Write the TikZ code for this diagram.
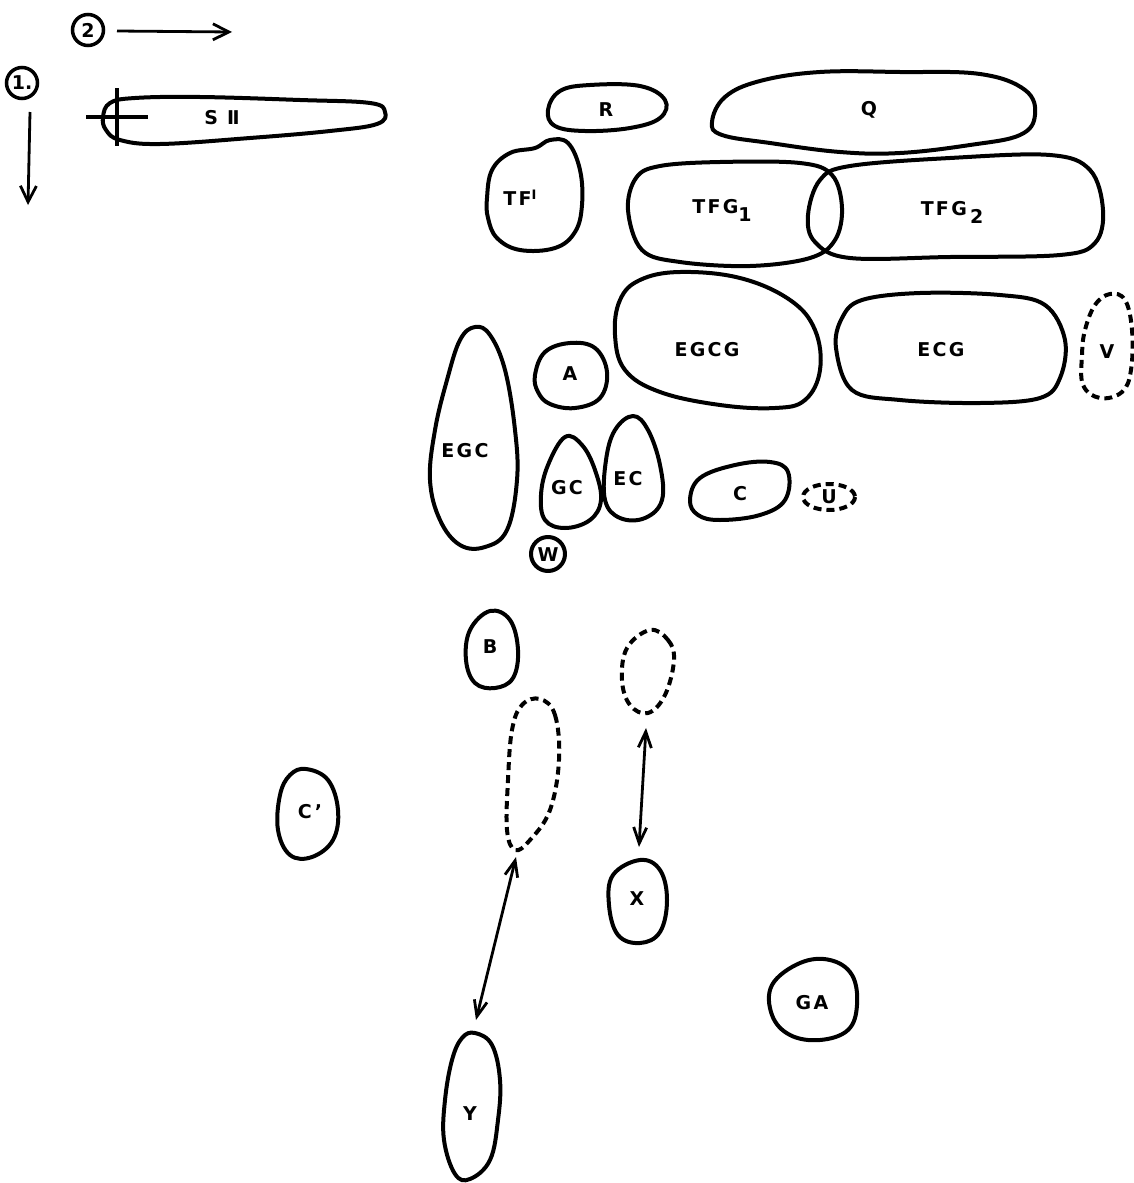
\documentclass[tikz,border=0pt]{standalone}
\usepackage{fontspec}
\setmainfont{DejaVu Sans}
\usetikzlibrary{arrows.meta}
\begin{document}
\begin{tikzpicture}[x=1pt,y=-1pt,
  blob/.style={line width=4pt,line join=round},
  dblob/.style={blob,dash pattern=on 8pt off 5pt},
  lbl/.style={font=\bfseries\fontsize{19}{19}\selectfont\addfontfeature{LetterSpace=12},inner sep=0pt},
  arr/.style={line width=2.8pt,-{Straight Barb[length=16pt,width=16pt,line width=2.8pt]}},
  darr/.style={line width=2.8pt,{Straight Barb[length=16pt,width=13pt,line width=2.8pt]}-{Straight Barb[length=16pt,width=13pt,line width=2.8pt]}},
  numc/.style={circle,draw,line width=3.5pt,inner sep=1pt,minimum size=31pt,font=\bfseries\fontsize{19}{19}\selectfont}]
\useasboundingbox (0,0) rectangle (1134,1183);
% direction markers
\node[numc] (n2) at (88,30) {2};
\node[numc] (n1) at (22,83) {1.};
\coordinate (a2s) at (117,31);
\coordinate (a2e) at (232,32);
\draw[arr] (a2s) -- (a2e);
\coordinate (a1s) at (30,112);
\coordinate (a1e) at (28,205);
\draw[arr] (a1s) -- (a1e);
% S II
\draw[blob] plot[smooth cycle,tension=0.65] coordinates {(103,117) (110,103) (135,98) (200,97) (300,100) (370,103) (385,112) (377,124) (330,131) (250,138) (160,144) (120,140) (106,130)};
\coordinate (cv1) at (117,88); \coordinate (cv2) at (117,146);
\coordinate (ch1) at (86,117); \coordinate (ch2) at (148,117);
\draw[line width=3.4pt] (cv1) -- (cv2);
\draw[line width=3.4pt] (ch1) -- (ch2);
\node[lbl] (sII) at (222,118) {S Ⅱ};
% R
\draw[blob] plot[smooth cycle,tension=0.65] coordinates {(548,110) (560,91) (590,85) (640,86) (665,100) (660,118) (630,128) (585,131) (555,126)};
\node[lbl] (R) at (606,110) {R};
% Q
\draw[blob] plot[smooth cycle,tension=0.65] coordinates {(712,122) (725,97) (760,81) (820,72) (900,72) (980,74) (1025,90) (1035,115) (1020,135) (970,145) (900,153) (840,152) (770,143) (722,135)};
\node[lbl] (Q) at (869,110) {Q};
% TF'
\draw[blob] plot[smooth cycle,tension=0.65] coordinates {(487,198) (492,170) (510,153) (535,148) (550,140) (568,143) (580,170) (582,205) (575,232) (555,248) (520,250) (497,238) (488,218)};
\node[lbl] (TF) at (520,198) {TF\raisebox{6pt}{\fontsize{13}{13}\selectfont I}};
% TFG1
\draw[blob] plot[smooth cycle,tension=0.6] coordinates {(628,210) (636,178) (660,166) (720,162) (800,163) (832,175) (842,208) (835,240) (810,258) (750,266) (680,262) (642,250)};
\node[lbl] (TFG1) at (722,210) {TFG\raisebox{-8pt}{1}};
% TFG2
\draw[blob] plot[smooth cycle,tension=0.6] coordinates {(808,215) (820,180) (850,166) (950,158) (1050,155) (1090,170) (1103,210) (1095,243) (1060,255) (950,257) (850,258) (815,242)};
\node[lbl] (TFG2) at (952,212) {TFG\,\raisebox{-8pt}{2}};
% EGCG
\draw[blob] plot[smooth cycle,tension=0.65] coordinates {(615,335) (620,300) (640,280) (680,272) (740,278) (790,300) (815,330) (820,370) (805,400) (775,408) (720,405) (660,392) (625,370)};
\node[lbl] (EGCG) at (707,350) {EGCG};
% ECG
\draw[blob] plot[smooth cycle,tension=0.6] coordinates {(836,348) (842,318) (862,300) (920,293) (1000,295) (1045,305) (1065,340) (1060,378) (1040,398) (980,403) (900,400) (852,390)};
\node[lbl] (ECG) at (941,350) {ECG};
% V
\draw[dblob] plot[smooth cycle,tension=0.65] coordinates {(1085,330) (1095,305) (1110,294) (1125,300) (1132,330) (1131,370) (1122,392) (1100,398) (1083,385) (1082,355)};
\node[lbl] (V) at (1107,352) {V};
% EGC
\draw[blob] plot[smooth cycle,tension=0.65] coordinates {(475,327) (490,335) (505,370) (515,430) (517,480) (507,530) (485,547) (460,545) (440,520) (430,480) (435,430) (447,380) (460,340)};
\node[lbl] (EGC) at (465,451) {EGC};
% A
\draw[blob] plot[smooth cycle,tension=0.65] coordinates {(535,375) (545,352) (570,343) (595,348) (607,372) (600,398) (575,408) (550,404) (538,392)};
\node[lbl] (A) at (570,374) {A};
% GC
\draw[blob] plot[smooth cycle,tension=0.65] coordinates {(565,437) (582,445) (595,470) (601,500) (590,520) (565,528) (545,520) (541,495) (548,465)};
\node[lbl] (GC) at (567,488) {GC};
% EC
\draw[blob] plot[smooth cycle,tension=0.65] coordinates {(633,416) (648,430) (660,465) (662,500) (645,518) (620,518) (605,500) (606,460) (615,430)};
\node[lbl] (EC) at (628,479) {EC};
% C
\draw[blob] plot[smooth cycle,tension=0.65] coordinates {(690,500) (700,478) (735,465) (770,462) (788,472) (785,500) (760,515) (720,520) (698,515)};
\node[lbl] (C) at (740,494) {C};
% U
\draw[dblob] (829,497) ellipse [x radius=26,y radius=13];
\node[lbl] (U) at (829,497) {U};
% W
\draw[blob] (548,554) circle [radius=17];
\node[lbl] (W) at (548,555) {W};
% B
\draw[blob] plot[smooth cycle,tension=0.65] coordinates {(490,611) (510,620) (518,650) (513,678) (495,688) (475,683) (466,660) (470,630)};
\node[lbl] (B) at (490,647) {B};
% dashed blob near B
\draw[dblob] plot[smooth cycle,tension=0.65] coordinates {(540,699) (555,715) (559,760) (550,810) (530,840) (515,850) (507,830) (508,780) (512,730) (522,705)};
% dashed blob near X
\draw[dblob] plot[smooth cycle,tension=0.65] coordinates {(650,630) (668,640) (674,660) (665,695) (648,713) (630,705) (622,680) (627,648)};
% C'
\draw[blob] plot[smooth cycle,tension=0.65] coordinates {(306,769) (328,780) (338,810) (333,840) (312,857) (290,855) (278,830) (280,795) (290,775)};
\node[lbl] (Cp) at (310,812) {C’};
% X
\draw[blob] plot[smooth cycle,tension=0.65] coordinates {(640,860) (660,870) (667,900) (660,932) (640,943) (618,935) (609,905) (613,875)};
\node[lbl] (X) at (637,899) {X};
% GA
\draw[blob] plot[smooth cycle,tension=0.65] coordinates {(800,963) (830,960) (852,975) (857,1005) (848,1030) (820,1040) (790,1035) (772,1015) (772,985)};
\node[lbl] (GA) at (812,1003) {GA};
% Y
\draw[blob] plot[smooth cycle,tension=0.65] coordinates {(475,1033) (492,1045) (500,1080) (498,1120) (490,1160) (470,1179) (455,1174) (444,1140) (445,1100) (452,1060) (462,1038)};
\node[lbl] (Y) at (470,1114) {Y};
% double arrows
\coordinate (p1) at (516,857);
\coordinate (p2) at (476,1020);
\draw[darr] (p1) -- (p2);
\coordinate (p3) at (646,728);
\coordinate (p4) at (639,847);
\draw[darr] (p3) -- (p4);
\end{tikzpicture}
\end{document}
